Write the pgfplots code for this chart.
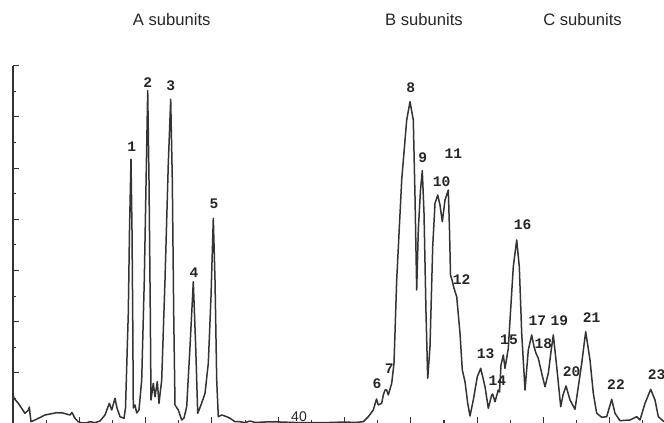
\documentclass[border=0pt]{standalone}
\usepackage{pgfplots}
\pgfplotsset{compat=1.18}
\usepackage{fontspec}
\setmainfont{Liberation Sans}
\newfontfamily\monof{Liberation Mono}
\definecolor{trace}{HTML}{333333}
\begin{document}
\begin{tikzpicture}
\begin{axis}[
  scale only axis,
  width=325.5pt, height=178.65pt,
  xmin=13, xmax=664, ymin=0, ymax=357.3,
  axis lines=left,
  axis line style={-, draw=trace, line width=0.6pt},
  x axis line style={draw=none},
  tick align=inside,
  tick style={draw=trace, line width=0.55pt},
  major tick length=3pt, minor tick length=1.6pt,
  xtick={79.3,145.6,211.9,278.2,344.5,410.8,477.1,543.4,609.7},
  minor xtick={46.2,112.5,178.8,245.1,311.4,377.7,444,510.3,576.6,642.9},
  ytick={50.1,101.3,152.5,203.7,254.9,306.1,357.3},
  minor ytick={24.5,75.7,126.9,178.1,229.3,280.5,331.7},
  xticklabels={}, yticklabels={},
  clip=false,
]
\addplot[trace, line width=0.75pt, line join=round, sharp plot] coordinates {
(13.5,27) (14,24.7) (18.3,19.7) (25,9.7) (28.5,13) (29.3,16) (30.2,8) (31,1.3)
(35,3) (38.3,4.7) (41.7,6.3) (45,8) (50,9) (56.7,10.3) (63,10) (68,8.5) (70,8)
(72,10.5) (75,4.7) (78.3,1.3) (82,0) (86.7,0.2) (90,1.3) (95,0.3) (100,2)
(105,8) (109.3,19.7) (111.7,13) (115,24.7) (117,15) (120,6.3) (124,4.7)
(125.5,15) (128.3,110) (129.5,193) (131,263.7) (132,193) (132.7,110) (133.3,15)
(135,18) (136.7,10) (139,13) (141.7,43) (144.3,143) (146.7,276.3) (147.7,332.3)
(149,243) (150.3,110) (151,23) (153.3,39.7) (155,26.3) (157.3,41.3) (159,19.7)
(161.7,43) (165,143) (168.3,259.7) (170.7,323.7) (172.3,243) (173.7,110)
(175,18) (178.3,13) (181.7,3) (184,5) (186.7,16.3) (190,76.3) (193.3,141.3)
(195.7,76.3) (197.7,9.7) (201,18) (205,29.7) (208.3,59.7) (211,126.3)
(213.3,204.7) (215,143) (216.7,43) (218.3,6.3) (221.7,8) (226.7,6.3) (230,4.7)
(235,1.3) (240,1.3) (245,0.3) (250,2) (255,0.5) (265,1) (280,1) (300,0.3)
(330,0.5) (345,1) (355,0.5) (363.3,1.3) (368.3,6.3) (373.3,13) (376.5,24)
(378.3,18) (381.7,19.7) (383.3,28) (385,33) (386.7,33) (388.3,28) (391.7,39.7)
(394,59.7) (396.7,143) (401.7,243) (406.7,303) (410,321.3) (413.3,303)
(415,226.3) (416.7,133) (418.3,193) (420.5,233) (422.3,252.3) (424,210)
(426,110) (427.7,44.7) (430,76.3) (432.7,176.3) (435,219.7) (437.7,228)
(440,218) (442.3,201.3) (445,223) (448.3,233) (449.5,193) (450.5,148)
(452,143) (454,134.7) (456.7,126.3) (460,89.7) (462.3,53) (465,41.3)
(467.7,19.7) (470,7) (473.3,23) (477.3,46.3) (480.7,54.7) (485,36.3)
(488.3,14.7) (491.7,28) (492.7,29) (495,21.3) (498.3,33) (499.5,31) (501,58)
(503.3,68) (505,54.7) (508.3,74.7) (510,103) (513.3,156.3) (516.7,183)
(519.3,156.3) (521.7,89.7) (525,33) (528.3,73) (531.7,88) (534,76.3)
(536,69.7) (538.3,64.7) (541.7,49.7) (545,36.3) (548.3,49.7) (551,71.3)
(553.3,88) (556.7,56.3) (560.7,16.3) (563,28) (566,37) (570,23) (575,13.7)
(579.3,43) (581.7,59.7) (585.7,91.3) (590,63) (593.3,29.7) (596.7,9.7)
(601.7,5.7) (606.7,6.3) (611.7,23.7) (615,9.7) (620,2.3) (630,3) (636.7,6.3)
(640,3) (645,19.7) (650.7,33.7) (655,23) (658.3,6.3) (664,1.3)
};
\coordinate (bl) at (axis cs:0,0);
\coordinate (tr) at (axis cs:664,423);
\begin{scope}[every node/.style={font=\fontsize{8.3}{9}\selectfont, text=black!85}]
\node at (axis cs:171.7,403) {A subunits};
\node at (axis cs:424,403) {B subunits};
\node at (axis cs:582.5,403) {C subunits};
\end{scope}
\node[anchor=south, inner sep=0pt, font=\fontsize{7}{8}\selectfont, text=black!85] at (axis cs:299,0.5) {40};
\begin{scope}[every node/.style={font=\monof\bfseries\fontsize{7.3}{8}\selectfont, text=black!85, inner sep=0pt}]
\node at (axis cs:131.7,276.3) {1};
\node at (axis cs:147.7,340.7) {2};
\node at (axis cs:170.7,337.3) {3};
\node at (axis cs:194,150.3) {4};
\node at (axis cs:214,219) {5};
\node at (axis cs:377,39.7) {6};
\node at (axis cs:389.3,54.7) {7};
\node at (axis cs:410.7,335.7) {8};
\node at (axis cs:422.7,265.7) {9};
\node at (axis cs:441.7,241.3) {10};
\node at (axis cs:453.3,269) {11};
\node at (axis cs:461.7,143.7) {12};
\node at (axis cs:485.7,69) {13};
\node at (axis cs:497.3,42.3) {14};
\node at (axis cs:509,83.7) {15};
\node at (axis cs:522.7,198) {16};
\node at (axis cs:537.3,102.3) {17};
\node at (axis cs:543.3,79.7) {18};
\node at (axis cs:559.3,102.3) {19};
\node at (axis cs:571.7,51.3) {20};
\node at (axis cs:591.7,105.7) {21};
\node at (axis cs:616,38) {22};
\node at (axis cs:656.7,48) {23};
\end{scope}
\end{axis}
\pgfresetboundingbox
\path[use as bounding box] (bl) rectangle (tr);
\end{tikzpicture}
\end{document}
